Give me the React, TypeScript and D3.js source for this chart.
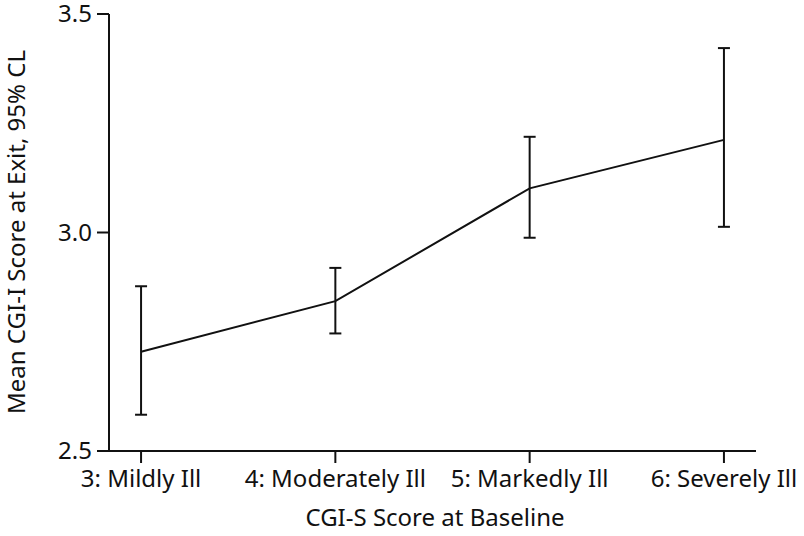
import React from 'react';
import * as d3 from 'd3';

// CGI-S baseline categories and mean CGI-I at exit with 95% CL
const categories = ['3: Mildly Ill', '4: Moderately Ill', '5: Markedly Ill', '6: Severely Ill'];
const means = [2.727, 2.843, 3.101, 3.212];
const lower = [2.583, 2.769, 2.988, 3.013];
const upper = [2.877, 2.919, 3.219, 3.422];
const yTicks = [2.5, 3.0, 3.5];

const width = 804;
const height = 536;
const font = "'Noto Sans', 'Open Sans', sans-serif";

const App = () => {
  const x = d3.scalePoint<string>()
    .domain(categories)
    .range([109, 756])
    .padding(0.165);
  const y = d3.scaleLinear().domain([2.5, 3.5]).range([451, 14]);

  const line = d3.line<number>()
    .x((d, i) => x(categories[i]) as number)
    .y(d => y(d));

  const cap = 6;

  return (
    <svg width={width} height={height} style={{ position: 'absolute', left: 0, top: 0 }}>
      <rect width={width} height={height} fill="#fff" />
      {/* y axis */}
      <line x1={109} x2={109} y1={y(3.5)} y2={y(2.5) + 1} stroke="#111" strokeWidth={2} />
      {yTicks.map(t => (
        <g key={t}>
          <line x1={97} x2={109} y1={y(t)} y2={y(t)} stroke="#111" strokeWidth={2} />
          <text x={92} y={y(t)} dy="0.35em" textAnchor="end" fontFamily={font} fontSize={24} fill="#111">
            {t.toFixed(1)}
          </text>
        </g>
      ))}
      {/* x axis */}
      <line x1={108} x2={756} y1={451} y2={451} stroke="#111" strokeWidth={2} />
      {categories.map(c => (
        <g key={c}>
          <line x1={x(c)} x2={x(c)} y1={451} y2={463} stroke="#111" strokeWidth={2} />
          <text x={x(c)} y={487} textAnchor="middle" fontFamily={font} fontSize={24} fill="#111">{c}</text>
        </g>
      ))}
      <text x={435} y={526} textAnchor="middle" fontFamily={font} fontSize={24} fill="#111">CGI-S Score at Baseline</text>
      <text transform={`translate(25,${232}) rotate(-90)`} textAnchor="middle" fontFamily={font} fontSize={24} fill="#111">
        Mean CGI-I Score at Exit, 95% CL
      </text>
      {/* error bars */}
      {categories.map((c, i) => {
        const cx = x(c) as number;
        return (
          <g key={'e' + c} stroke="#111" strokeWidth={2}>
            <line x1={cx} x2={cx} y1={y(upper[i])} y2={y(lower[i])} />
            <line x1={cx - cap} x2={cx + cap} y1={y(upper[i])} y2={y(upper[i])} />
            <line x1={cx - cap} x2={cx + cap} y1={y(lower[i])} y2={y(lower[i])} />
          </g>
        );
      })}
      <path d={line(means) || ''} fill="none" stroke="#111" strokeWidth={2} />
    </svg>
  );
};

export default App;
